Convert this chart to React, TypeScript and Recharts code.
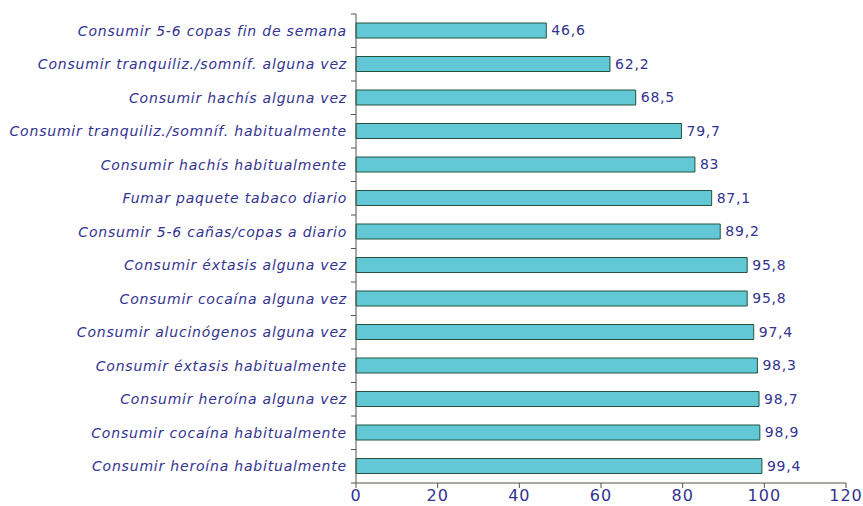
import React from "react";
import { BarChart, Bar, XAxis, YAxis, LabelList } from "recharts";

const categories = [
  "Consumir 5-6 copas fin de semana",
  "Consumir tranquiliz./somníf. alguna vez",
  "Consumir hachís alguna vez",
  "Consumir tranquiliz./somníf. habitualmente",
  "Consumir hachís habitualmente",
  "Fumar paquete tabaco diario",
  "Consumir 5-6 cañas/copas a diario",
  "Consumir éxtasis alguna vez",
  "Consumir cocaína alguna vez",
  "Consumir alucinógenos alguna vez",
  "Consumir éxtasis habitualmente",
  "Consumir heroína alguna vez",
  "Consumir cocaína habitualmente",
  "Consumir heroína habitualmente",
];

const values = [46.6, 62.2, 68.5, 79.7, 83, 87.1, 89.2, 95.8, 95.8, 97.4, 98.3, 98.7, 98.9, 99.4];

const xTicks = [0, 20, 40, 60, 80, 100, 120];

const data = categories.map((name, i) => ({ name, value: values[i] }));

const FONT = "'Comic Sans MS', 'DejaVu Sans', sans-serif";
const TEXT = "#333390";
const AXIS = "#55554a";

const fmt = (v: number) => String(v).replace(".", ",");

// category ticks sit on band edges, like the original spreadsheet chart
const CategoryTick = (props: any) => {
  const { x, y, payload, index } = props;
  const band = 33.5;
  const last = index === categories.length - 1;
  return (
    <g>
      <line x1={x + 3} x2={x + 8} y1={y - band / 2} y2={y - band / 2} stroke={AXIS} />
      {last && <line x1={x + 3} x2={x + 8} y1={y + band / 2} y2={y + band / 2} stroke={AXIS} />}
      <text
        x={x - 1}
        y={y}
        dy={5}
        textAnchor="end"
        fill={TEXT}
        fontSize={14}
        fontStyle="italic"
        letterSpacing={0.8}
        fontFamily={FONT}
      >
        {payload.value}
      </text>
    </g>
  );
};

const App = () => {
  return (
    <div style={{ position: "absolute", left: 0, top: 0, width: 863, height: 506 }}>
      <BarChart
        width={863}
        height={506}
        data={data}
        layout="vertical"
        margin={{ top: 14, right: 17, left: 0, bottom: 0 }}
        barCategoryGap={0}
        style={{ overflow: "visible" }}
      >
        <XAxis
          type="number"
          domain={[0, 120]}
          ticks={xTicks}
          interval={0}
          height={23}
          axisLine={{ stroke: AXIS }}
          tickLine={{ stroke: AXIS }}
          tickSize={5}
          tick={{ fontSize: 16, fill: TEXT, fontFamily: FONT, letterSpacing: 1 }}
        />
        <YAxis
          type="category"
          dataKey="name"
          width={356}
          interval={0}
          axisLine={{ stroke: AXIS }}
          tickLine={false}
          tick={<CategoryTick />}
        />
        <Bar dataKey="value" fill="#62c8d6" stroke="#24523f" strokeWidth={1} barSize={15} isAnimationActive={false}>
          <LabelList
            dataKey="value"
            position="right"
            offset={5}
            formatter={(v: number) => fmt(v)}
            style={{ fontSize: 14, fill: TEXT, fontFamily: FONT, letterSpacing: 0.8 }}
          />
        </Bar>
      </BarChart>
    </div>
  );
};

export default App;
